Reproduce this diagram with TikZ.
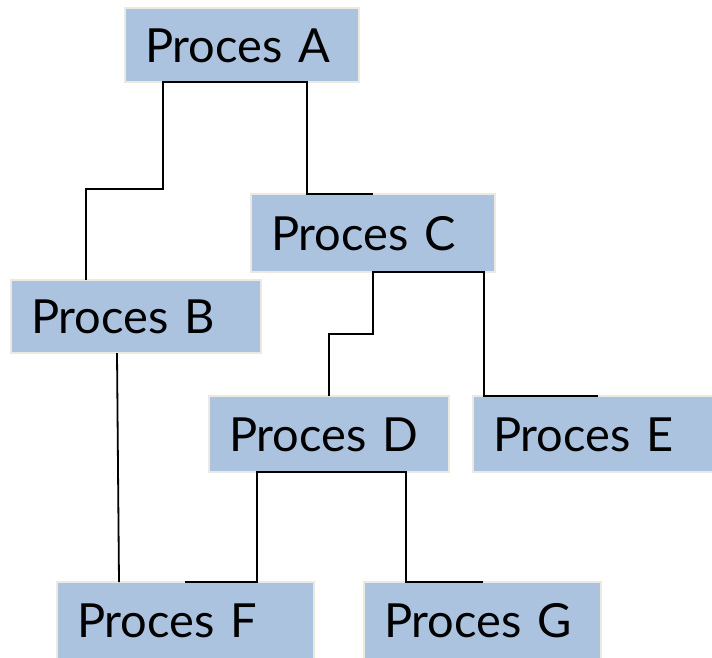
\documentclass[tikz,border=0pt]{standalone}
\usepackage{fontspec}
\setmainfont{Lato}
\usetikzlibrary{calc}
\definecolor{boxfill}{HTML}{ABC3DF}
\definecolor{boxline}{HTML}{ECEAE0}
\tikzset{
  proc/.style={draw=boxline, line width=2pt, fill=boxfill, anchor=north west,
    inner xsep=20pt, inner ysep=0pt, outer sep=0pt, align=left,
    font=\fontsize{47}{50}\selectfont, text height=34pt, text depth=0pt},
  conn/.style={draw=black, line width=1.8pt}
}
\begin{document}
\begin{tikzpicture}[x=1pt,y=-1pt]
\useasboundingbox (0,0) rectangle (712,657);
\node[proc, minimum width=234pt, minimum height=74pt, text width=194pt] (A) at (125,8) {Proces A};
\node[proc, minimum width=244pt, minimum height=78pt, text width=204pt] (C) at (251,194) {Proces C};
\node[proc, minimum width=250pt, minimum height=73pt, text width=210pt] (B) at (11,280) {Proces B};
\node[proc, minimum width=240pt, minimum height=76pt, text width=200pt] (D) at (209,396) {Proces D};
\node[proc, minimum width=241pt, minimum height=76pt, text width=201pt] (E) at (473,396) {Proces E};
\node[proc, minimum width=257pt, minimum height=77pt, text width=217pt] (F) at (57,582) {Proces F};
\node[proc, minimum width=237pt, minimum height=77pt, text width=197pt] (G) at (364,582) {Proces G};
\coordinate (ab) at ($(A.south west)+(38,0)$);
\coordinate (ac) at ($(A.south west)+(182,0)$);
\coordinate (cd) at ($(C.south west)+(122,0)$);
\coordinate (ce) at ($(C.south west)+(233,0)$);
\coordinate (df) at ($(D.south west)+(48,0)$);
\coordinate (dg) at ($(D.south west)+(197,0)$);
\draw[conn] ($(B.north west)+(75,0)$) |- ($(ab)+(0,107)$) -- (ab) -- (ac) |- ($(C.north west)+(122,0)$);
\draw[conn] ($(D.north west)+(120,0)$) |- ($(cd)+(0,62)$) -- (cd) -- (ce) |- ($(E.north west)+(125,0)$);
\draw[conn] ($(F.north west)+(128,0)$) -| (df) -- (dg) |- ($(G.north west)+(119,0)$);
\draw[conn] ($(B.south west)+(106,0)$) -- ($(F.north west)+(62,0)$);
\end{tikzpicture}
\end{document}
